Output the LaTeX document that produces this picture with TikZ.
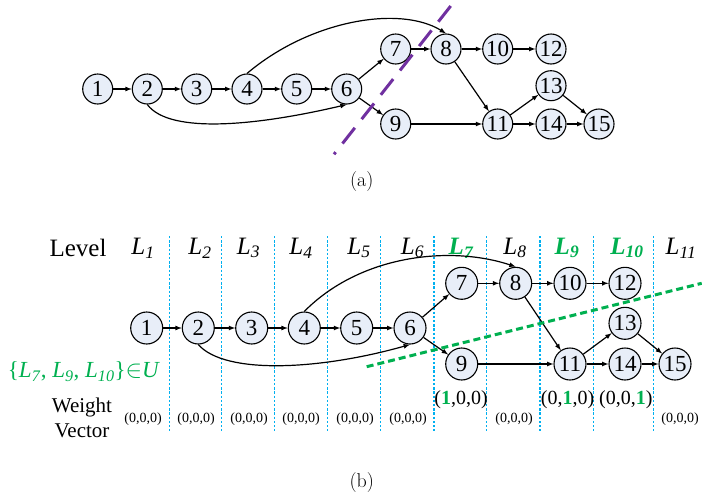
\documentclass[tikz,border=0pt]{standalone}
\usepackage{fontspec}
\setmainfont{Liberation Serif}

\definecolor{nodefill}{RGB}{232,238,248}
\definecolor{levelblue}{RGB}{0,176,240}
\definecolor{setgreen}{RGB}{0,176,80}
\definecolor{cutpurple}{RGB}{112,48,160}

\tikzstyle{vertex}=[circle,draw,fill=nodefill,line width=1.1pt,minimum size=30pt,inner sep=0pt,font=\fontsize{23}{23}\selectfont]
\tikzstyle{big vertex}=[vertex,minimum size=32pt]
\tikzstyle{edge} = [draw,line width=1.2pt,->,>=latex]
\tikzstyle{level line} = [draw=levelblue,line width=1.5pt,dash pattern=on 2.4pt off 1.8pt]
\tikzstyle{level label} = [font=\fontsize{25}{25}\selectfont\itshape]
\tikzstyle{hot label} = [font=\fontsize{25}{25}\selectfont\itshape\bfseries,text=setgreen]
\tikzstyle{zero vector} = [font=\fontsize{14}{14}\selectfont]
\tikzstyle{hot vector} = [font=\fontsize{20}{20}\selectfont]
\tikzstyle{caption} = [font=\fontsize{20}{20}\fontfamily{lmr}\selectfont]

\begin{document}
\begin{tikzpicture}[x=1pt,y=-1pt]
\useasboundingbox (0,0) rectangle (702,493);

% (a) the task graph with its cut
\foreach \pos/\name in {{(97.7,89)/1}, {(147.3,89)/2}, {(196.7,89)/3}, {(247,89)/4},
                        {(296.7,89)/5}, {(346.7,89)/6}, {(395.7,49)/7}, {(446,49)/8},
                        {(395.7,124)/9}, {(497.7,49)/10}, {(497.7,124)/11}, {(551,49)/12},
                        {(551,85.7)/13}, {(551,124)/14}, {(599,124)/15}}{
  \node[vertex] (a\name) at \pos {\name};
}
\foreach \source/\dest in {1/2, 2/3, 3/4, 4/5, 5/6, 6/7, 6/9, 7/8, 8/10, 10/12,
                           8/11, 9/11, 11/13, 11/14, 13/15, 14/15} {
  \path[edge] (a\source) -- (a\dest);
}
\path[edge] (a4.north) .. controls (310,20) and (400,5) .. (a8.north);
\path[edge] (a2.south) .. controls (170,135) and (260,125) .. (a6.south);
\draw[cutpurple,line width=3pt,dash pattern=on 20pt off 11pt] (450.7,6) -- (334,154.3);
\node[caption] (capa) at (361.7,181.7) {(a)};

% (b) the same graph split into levels
\foreach \x in {169.3, 221.7, 274.3, 327.3, 380.7, 434, 486.7, 540, 593.3, 653.3}{
  \draw[level line] (\x,236) -- (\x,431);
}
\node[font=\fontsize{25}{25}\selectfont] (level) at (78,248) {Level};
\foreach \x/\n/\hot in {143/1/0, 200/2/0, 248.5/3/0, 301/4/0, 359/5/0, 412.5/6/0,
                        461/7/1, 515/8/0, 567/9/1, 627/10/1, 681/11/0} {
  \ifnum\hot=0
  \node[level label] (L\n) at (\x,248) {L\textsubscript{\n}};
  \else
  \node[hot label] (L\n) at (\x,248) {L\textsubscript{\n}};
  \fi
}
\foreach \pos/\name in {{(146.7,328)/1}, {(198.3,328)/2}, {(251.7,328)/3}, {(304.3,328)/4},
                        {(356.7,328)/5}, {(410,328)/6}, {(461.7,283.3)/7}, {(515.7,283.3)/8},
                        {(461.7,364)/9}, {(570,283.3)/10}, {(570,364)/11}, {(625,283.3)/12},
                        {(625,323.3)/13}, {(625,364)/14}, {(675,364)/15}}{
  \node[big vertex] (b\name) at \pos {\name};
}
\foreach \source/\dest in {1/2, 2/3, 3/4, 4/5, 5/6, 6/7, 6/9, 7/8, 8/10, 10/12,
                           8/11, 9/11, 11/13, 11/14, 13/15, 14/15} {
  \path[edge] (b\source) -- (b\dest);
}
\path[edge] (b4.north) .. controls (360,255) and (450,245) .. (b8.north);
\path[edge] (b2.south) .. controls (225,375) and (320,370) .. (b6.south);
\draw[setgreen,line width=3pt,dash pattern=on 7pt off 4pt] (366.7,366.7) -- (701.7,283.3);
\node[text=setgreen,font=\fontsize{23}{23}\selectfont] (set) at (84,371.7)
  {\{\textit{L}\textsubscript{\textit{7}}, \textit{L}\textsubscript{\textit{9}}, \textit{L}\textsubscript{\textit{10}}\}$\in$\textit{U}};
\node[align=center,font=\fontsize{21}{25}\selectfont] (wv) at (82,418) {Weight\\Vector};
\foreach \x/\n in {143/1, 196/2, 249/3, 301/4, 355/5, 408/6, 514/8, 680/11} {
  \node[zero vector] (w\n) at (\x,419) {(0,0,0)};
}
\node[hot vector] (w7) at (461,400) {(\textcolor{setgreen}{\textbf{1}},0,0)};
\node[hot vector] (w9) at (567.5,400) {(0,\textcolor{setgreen}{\textbf{1}},0)};
\node[hot vector] (w10) at (625.8,400) {(0,0,\textcolor{setgreen}{\textbf{1}})};
\node[caption] (capb) at (361.7,483) {(b)};
\end{tikzpicture}
\end{document}
